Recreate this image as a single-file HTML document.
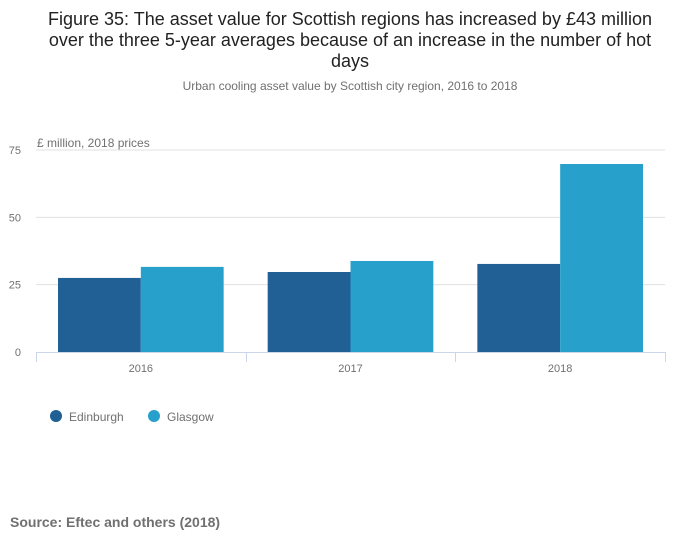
<!DOCTYPE html>
<html><head><meta charset="utf-8">
<style>
body{margin:0;background:#fff;font-family:"Liberation Sans",sans-serif;}
svg{display:block}
</style></head>
<body>
<svg width="700" height="549" viewBox="0 0 700 549">
<g font-family="Liberation Sans, sans-serif">
<text x="350" y="25" text-anchor="middle" font-size="18" fill="#222">Figure 35: The asset value for Scottish regions has increased by £43 million</text>
<text x="350" y="46" text-anchor="middle" font-size="18" fill="#222">over the three 5-year averages because of an increase in the number of hot</text>
<text x="350" y="67" text-anchor="middle" font-size="18" fill="#222">days</text>
<text x="350" y="90" text-anchor="middle" font-size="12" fill="#707070">Urban cooling asset value by Scottish city region, 2016 to 2018</text>
<text x="37" y="147" font-size="12" fill="#707070">£ million, 2018 prices</text>
<g id="grid"></g>
<g id="bars"></g>
<g id="xaxis"></g>
<g>
<circle cx="56" cy="416" r="6" fill="#206095"/>
<text x="69" y="421" font-size="12" fill="#707070">Edinburgh</text>
<circle cx="154" cy="416" r="6" fill="#27a0cc"/>
<text x="167" y="421" font-size="12" fill="#707070">Glasgow</text>
</g>
<text x="10" y="527" font-size="14" font-weight="bold" fill="#707070">Source: Eftec and others (2018)</text>
</g>
</svg>
<script>
const categories=["2016","2017","2018"];
const edinburgh=[27.5,29.7,32.7];
const glasgow=[31.6,33.8,69.8];
const yTicks=[0,25,50,75];
const NS="http://www.w3.org/2000/svg";
const x0=36,x1=665,y0=352,yTop=150,yMax=75;
const y=v=>y0-(v/yMax)*(y0-yTop);
const band=(x1-x0)/categories.length;
function mk(t,a,p){const e=document.createElementNS(NS,t);for(const k in a)e.setAttribute(k,a[k]);p.appendChild(e);return e;}
const grid=document.getElementById('grid'),bars=document.getElementById('bars'),xa=document.getElementById('xaxis');
yTicks.forEach(t=>{
 if(t>0){const l=mk('line',{x1:x0,x2:x1,y1:y(t),y2:y(t),stroke:'#e0e0e0'},grid);
 
 }
 const tx=mk('text',{x:21,y:y(t)+4,'text-anchor':'end','font-size':11,fill:'#707070'},grid);
 tx.textContent=t;
 
 
});
const pad=band*0.105,bw=(band-2*pad)/2;
categories.forEach((c,i)=>{
 const bx=x0+i*band+pad;
 const r1=mk('rect',{x:bx,y:y(edinburgh[i]),width:bw,height:y0-y(edinburgh[i]),fill:'#206095'},bars);
 
 
 const r2=mk('rect',{x:bx+bw,y:y(glasgow[i]),width:bw,height:y0-y(glasgow[i]),fill:'#27a0cc'},bars);
 
 
 const t=mk('text',{x:x0+(i+0.5)*band,y:372,'text-anchor':'middle','font-size':11,fill:'#707070'},xa);
 t.textContent=c;
 
 
});
const ax=mk('line',{x1:x0,x2:x1,y1:y0+0.5,y2:y0+0.5,stroke:'#ccd6eb'},xa);


for(let i=0;i<=categories.length;i++){
 const xx=Math.round(x0+i*band)+0.5;
 const tk=mk('line',{x1:xx,x2:xx,y1:y0,y2:y0+10,stroke:'#ccd6eb'},xa);
 
 
}
</script>
</body></html>
